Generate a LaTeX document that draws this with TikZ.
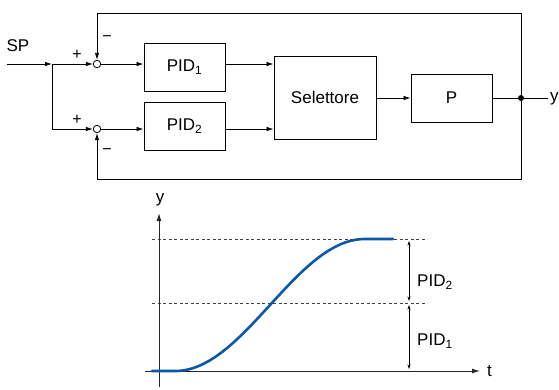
\documentclass[tikz,border=0pt]{standalone}
\usepackage{fontspec}
\setmainfont{Liberation Sans}
\usetikzlibrary{arrows.meta,calc}
\definecolor{curveblue}{RGB}{10,88,168}
\begin{document}
\begin{tikzpicture}[x=1pt,y=-1pt,
  font=\fontsize{17}{20}\selectfont,
  blk/.style={draw,line width=0.9pt,minimum width=81pt,minimum height=48pt,inner sep=0pt},
  sumc/.style={draw,circle,line width=0.8pt,minimum size=7.5pt,inner sep=0pt,fill=white},
  sig/.style={font=\fontsize{16}{18}\selectfont,inner sep=0pt},
  wire/.style={line width=0.8pt},
  arr/.style={wire,-{Latex[length=7pt,width=4.5pt]}},
  dim/.style={line width=0.5pt,{Stealth[length=4.5pt,width=3pt]}-{Stealth[length=4.5pt,width=3pt]}},
  dsh/.style={line width=0.5pt,draw=black!75,dash pattern=on 3pt off 2.5pt},
  axis/.style={line width=1pt,draw=black!85,-{Latex[length=8pt,width=5pt]}}]
\useasboundingbox (0,0) rectangle (559,389);

% ---- block diagram ----
\coordinate (in) at (7,64);
\coordinate (br) at (52,64);
\coordinate (br2) at (52,129);
\node[sumc] (s1) at (97,64) {};
\node[sumc] (s2) at (97,129) {};
\node[blk] (pid1) at (184.5,67) {PID\textsubscript{1}};
\node[blk] (pid2) at (184.5,126) {PID\textsubscript{2}};
\node[blk,minimum width=102pt,minimum height=83pt] (sel) at (325,97.5) {Selettore};
\node[blk] (p) at (451.5,98) {P};
\node[circle,fill,inner sep=0pt,minimum size=6pt] (dot) at (521,98) {};
\coordinate (yend) at (548,98);
\node[anchor=west,inner sep=0pt] (ylab) at (550,99) {y};
\node (sp) at (18,46) {SP};
\coordinate (tl) at (97,13);
\coordinate (tr) at (521,13);
\coordinate (bl) at (97,179);
\coordinate (brr) at (521,179);

\draw[arr] (in) -- (br);
\draw[wire] (br) -- (br2);
\draw[arr] (br) -- (s1.west);
\draw[arr] (br2) -- (s2.west);
\draw[arr] (s1.east) -- (s1 -| pid1.west);
\draw[arr] (s2.east) -- (s2 -| pid2.west);
\draw[arr] (s1 -| pid1.east) -- (s1 -| sel.west);
\draw[arr] (s2 -| pid2.east) -- (s2 -| sel.west);
\draw[arr] (sel.east |- p) -- (p.west);
\draw[wire] (p.east) -- (dot) -- (yend);
\draw[wire] (dot) -- (tr) -- (tl);
\draw[arr] (tl) -- (s1.north);
\draw[wire] (dot) -- (brr) -- (bl);
\draw[arr] (bl) -- (s2.south);

\node[sig] (p1) at (77,55) {+};
\node[sig] (p2) at (77,120) {+};
\node[sig] (m1) at (107,39) {\textminus};
\node[sig] (m2) at (107,152) {\textminus};

% ---- response plot ----
\coordinate (yax0) at (159,387);
\coordinate (yax1) at (159,213);
\coordinate (tax0) at (145,371);
\coordinate (tax1) at (480,371);
\node (yl) at (160,200) {y};
\node[anchor=west,inner sep=0pt] (tl2) at (487,371) {t};

\coordinate (d1a) at (152,239);
\coordinate (d1b) at (427,239);
\coordinate (d2a) at (152,303);
\coordinate (d2b) at (427,303);
\draw[dsh] (d1a) -- (d1b);
\draw[dsh] (d2a) -- (d2b);

\draw[axis] (yax0) -- (yax1);
\draw[axis] (tax0) -- (tax1);

\coordinate (a1) at (409,241);
\coordinate (a2) at (409,301);
\coordinate (a3) at (409,305);
\coordinate (a4) at (409,369);
\draw[dim] (a1) -- (a2);
\draw[dim] (a3) -- (a4);
\node[anchor=west,inner sep=0pt] (lp2) at (417,282) {PID\textsubscript{2}};
\node[anchor=west,inner sep=0pt] (lp1) at (417,341) {PID\textsubscript{1}};

\draw[curveblue,line width=2.6pt,line cap=round,line join=round]
  (152,371) -- (175,371)
  -- plot[domain=175:365,samples=80] (\x,{371-66*(1-cos(0.947368*(\x-175)))})
  -- (393,239);
\end{tikzpicture}
\end{document}
